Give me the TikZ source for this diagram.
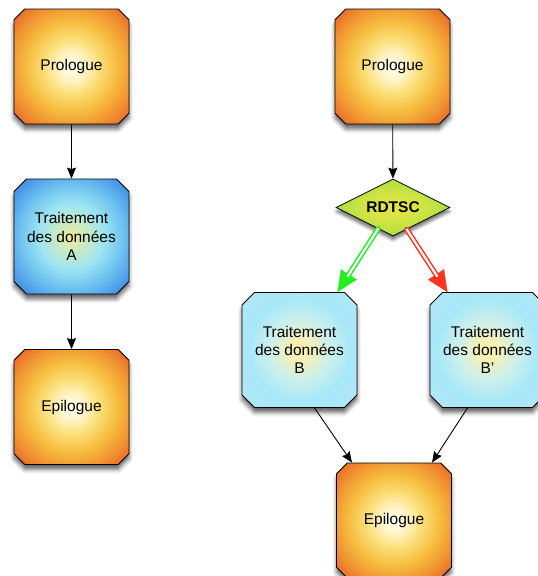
\documentclass[tikz,border=0pt]{standalone}
\usepackage{fontspec}
\setmainfont{Liberation Sans}
\usetikzlibrary{shapes.misc,shapes.geometric,arrows.meta,calc,shadows.blur}

% palette
\definecolor{orA}{HTML}{FFFFF6}
\definecolor{orB}{HTML}{FFF3C4}
\definecolor{orC}{HTML}{FBDF78}
\definecolor{orD}{HTML}{F6BE40}
\definecolor{orE}{HTML}{F09030}
\definecolor{orF}{HTML}{E65C28}
\definecolor{blA}{HTML}{F2EA98}
\definecolor{blB}{HTML}{CDEBC0}
\definecolor{blC}{HTML}{9EE6F2}
\definecolor{blD}{HTML}{6CC0F0}
\definecolor{blE}{HTML}{4C9AE8}
\definecolor{blF}{HTML}{3C86E2}
\definecolor{cyA}{HTML}{F8F0B0}
\definecolor{cyB}{HTML}{CCF0EC}
\definecolor{cyC}{HTML}{A8E8F8}
\definecolor{cyD}{HTML}{B2E6F8}
\definecolor{cyE}{HTML}{D6EEFA}
\definecolor{dmA}{HTML}{E8E642}
\definecolor{dmB}{HTML}{D2E444}
\definecolor{dmC}{HTML}{B0E040}
\definecolor{dmD}{HTML}{98DC3E}
\definecolor{arrGreen}{HTML}{22EE22}
\definecolor{arrRed}{HTML}{FF3322}

% radial fills: the node edge sits at about 35bp
\pgfdeclareradialshading{orangeball}{\pgfpoint{0bp}{0bp}}{%
  color(0bp)=(orA); color(6bp)=(orB); color(12bp)=(orC);
  color(19.5bp)=(orD); color(27.5bp)=(orE); color(35bp)=(orF);
  color(60bp)=(orF)}
\pgfdeclareradialshading{blueball}{\pgfpoint{0bp}{0bp}}{%
  color(0bp)=(blA); color(6bp)=(blB); color(14bp)=(blC);
  color(23bp)=(blD); color(30bp)=(blE); color(35bp)=(blF);
  color(60bp)=(blF!90!black)}
\pgfdeclareradialshading{cyanball}{\pgfpoint{0bp}{0bp}}{%
  color(0bp)=(cyA); color(4bp)=(cyA); color(13bp)=(cyB);
  color(22bp)=(cyC); color(35bp)=(cyD); color(60bp)=(cyE)}
\pgfdeclareradialshading{greenball}{\pgfpoint{0bp}{0bp}}{%
  color(0bp)=(dmA); color(12bp)=(dmB); color(24bp)=(dmC);
  color(35bp)=(dmD); color(60bp)=(dmD)}

\tikzset{
  x=1pt, y=-1pt,
  box/.style={chamfered rectangle, chamfered rectangle xsep=9pt,
    minimum width=115pt, minimum height=115pt, inner sep=0pt,
    draw=black, line width=0.8pt, align=center,
    font=\fontsize{15.5}{18.3}\selectfont,
    blur shadow={shadow xshift=0pt, shadow yshift=-5pt,
      shadow blur radius=4pt, shadow opacity=60}},
  orangebox/.style={box, shading=orangeball},
  bluebox/.style={box, shading=blueball},
  cyanbox/.style={box, shading=cyanball},
  testbox/.style={diamond, minimum width=114pt, minimum height=57pt,
    inner sep=0pt, aspect=2, draw=black, line width=0.8pt,
    shading=greenball, font=\fontsize{15.5}{18}\selectfont\bfseries,
    blur shadow={shadow xshift=0pt, shadow yshift=-4pt,
      shadow blur radius=3pt, shadow opacity=55}},
  flow/.style={draw=black, line width=0.9pt,
    -{Stealth[length=11pt, width=9pt, inset=1.5pt]}},
  branchhead/.style={line width=0.2pt,
    -{Triangle[length=21pt, width=19pt]}},
  branchshaft/.style={line width=1.5pt, double=white,
    double distance=2.2pt, line cap=round, shorten >=19pt},
}

\begin{document}
\begin{tikzpicture}
\useasboundingbox (0,0) rectangle (538,576);

% left column
\node[orangebox] (lp) at (71.5,66.5) {Prologue};
\node[bluebox]   (la) at (71.5,236.5) {Traitement\\des données\\A};
\node[orangebox] (le) at (71.5,407) {Epilogue};

% right column
\node[orangebox] (rp) at (392.5,66.5) {Prologue};
\node[testbox]   (rd) at (393,207.5) {RDTSC};
\node[cyanbox]   (tb) at (299.5,350) {Traitement\\des données\\B};
\node[cyanbox]   (tc) at (487.5,350) {Traitement\\des données\\B'};
\node[orangebox] (re) at (394,520.5) {Epilogue};

% sequential links
\draw[flow] (lp) -- (la);
\draw[flow] (la) -- (le);
\draw[flow] (rp) -- (rd);

% branch end points
\coordinate (gs) at ($(rd.south)!0.26!(rd.west)$);
\coordinate (ge) at ($(tb.north)+(38,0)$);
\coordinate (rs) at ($(rd.south)!0.24!(rd.east)$);
\coordinate (rend) at ($(tc.north)+(-40,0)$);

% the two branches out of the test
\draw[arrGreen, branchhead] (gs) -- (ge);
\draw[arrGreen, branchshaft] (gs) -- (ge);
\draw[arrRed, branchhead] (rs) -- (rend);
\draw[arrRed, branchshaft] (rs) -- (rend);

% joining links
\coordinate (bs) at ($(tb.south)+(15,0)$);
\coordinate (be) at ($(re.north)+(-42,0)$);
\coordinate (cs) at ($(tc.south)+(-20,0)$);
\coordinate (ce) at ($(re.north)+(38,0)$);
\draw[flow] (bs) -- (be);
\draw[flow] (cs) -- (ce);
\end{tikzpicture}
\end{document}
